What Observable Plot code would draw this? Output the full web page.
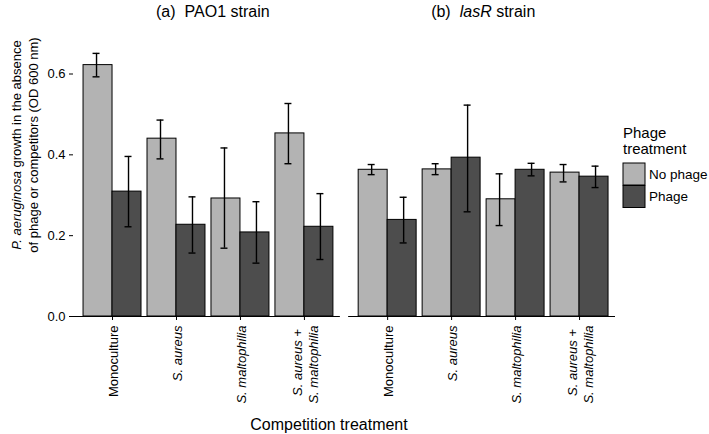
<!DOCTYPE html>
<html>
<head>
<meta charset="utf-8">
<script src="https://cdn.jsdelivr.net/npm/d3@7"></script>
<script src="https://cdn.jsdelivr.net/npm/@observablehq/plot@0.6"></script>
<style>
  body { margin: 0; background: #fff; }
  #chart svg { display: block; }
</style>
</head>
<body>
<div id="chart"></div>
<script>
// ---------- data ----------
const strains = ["PAO1", "lasR"];
const strainTitles = [["(a)", "", "PAO1 strain"], ["(b)", "lasR", " strain"]];
const competitions = ["Monoculture", "S. aureus", "S. maltophilia", "S. aureus + S. maltophilia"];
const competitionLabels = ["Monoculture", "S. aureus", "S. maltophilia", "S. aureus + \nS. maltophilia"];
const competitionItalic = [false, true, true, true];
const phageTreatments = ["No phage", "Phage"];
const barColors = ["#b3b3b3", "#4d4d4d"];
const yTicks = [0, 0.2, 0.4, 0.6];

// PAO1 strain
const pao1NoPhageMean = [0.622, 0.440, 0.292, 0.453];
const pao1NoPhageLow  = [0.593, 0.390, 0.169, 0.378];
const pao1NoPhageHigh = [0.651, 0.486, 0.417, 0.527];
const pao1PhageMean   = [0.309, 0.227, 0.208, 0.222];
const pao1PhageLow    = [0.222, 0.157, 0.132, 0.141];
const pao1PhageHigh   = [0.396, 0.296, 0.284, 0.304];
// lasR strain
const lasRNoPhageMean = [0.363, 0.364, 0.290, 0.356];
const lasRNoPhageLow  = [0.351, 0.351, 0.225, 0.333];
const lasRNoPhageHigh = [0.376, 0.378, 0.353, 0.376];
const lasRPhageMean   = [0.239, 0.393, 0.363, 0.346];
const lasRPhageLow    = [0.182, 0.259, 0.348, 0.319];
const lasRPhageHigh   = [0.295, 0.523, 0.379, 0.372];

const series = {
  "PAO1": {
    "No phage": [pao1NoPhageMean, pao1NoPhageLow, pao1NoPhageHigh],
    "Phage": [pao1PhageMean, pao1PhageLow, pao1PhageHigh]
  },
  "lasR": {
    "No phage": [lasRNoPhageMean, lasRNoPhageLow, lasRNoPhageHigh],
    "Phage": [lasRPhageMean, lasRPhageLow, lasRPhageHigh]
  }
};

// ---------- layout ----------
const W = 709, H = 434, ML = 73, MR = 94, MT = 25, MB = 118;
const fxPadInner = 0.03, xPadOuter = 0.172;
const facetW = (W - ML - MR) / (strains.length - fxPadInner) * (1 - fxPadInner);
const bw = facetW / (competitions.length * phageTreatments.length + 2 * xPadOuter);
const key = (c, p) => c + "|" + p;
const xDomain = competitions.flatMap(c => phageTreatments.map(p => key(c, p)));

const table = [];
strains.forEach(s => competitions.forEach((c, i) => phageTreatments.forEach(p => {
  const [m, lo, hi] = series[s][p];
  table.push({strain: s, competition: c, phage: p, key: key(c, p), mean: m[i], lo: lo[i], hi: hi[i]});
})));

const labelRows = strains.flatMap(s => competitions.map((c, i) => ({
  strain: s, key: key(c, phageTreatments[1]), label: competitionLabels[i], italic: competitionItalic[i]
})));

const font = "'Liberation Sans', Arial, Helvetica, sans-serif";
const labelOpts = {fx: "strain", x: "key", text: "label", dx: -bw / 2, dy: 9, frameAnchor: "bottom",
  rotate: -90, textAnchor: "end", lineAnchor: "middle", fontSize: 13, lineHeight: 1.25};

const plot = Plot.plot({
  width: W, height: H,
  marginLeft: ML, marginRight: MR, marginTop: MT, marginBottom: MB,
  style: {fontFamily: font, fontSize: "13px", background: "white", color: "black"},
  fx: {domain: strains, paddingInner: fxPadInner, paddingOuter: 0, round: false, axis: null, label: null},
  x: {domain: xDomain, paddingInner: 0, paddingOuter: xPadOuter, align: 0.64, round: false, axis: null},
  y: {domain: [0, 0.72], label: null},
  color: {domain: phageTreatments, range: barColors},
  marks: [
    Plot.barY(table.filter(d => d.phage === phageTreatments[0]),
      {fx: "strain", x: "key", y: "mean", fill: "phage", stroke: "black", strokeWidth: 1, insetLeft: 3, insetRight: 0}),
    Plot.barY(table.filter(d => d.phage === phageTreatments[1]),
      {fx: "strain", x: "key", y: "mean", fill: "phage", stroke: "black", strokeWidth: 1, insetLeft: 0, insetRight: 3}),
    Plot.ruleX(table, {fx: "strain", x: "key", y1: "lo", y2: "hi", stroke: "black", strokeWidth: 1.4}),
    Plot.tickY(table, {fx: "strain", x: "key", y: "lo", stroke: "black", strokeWidth: 1.4, inset: 12.5}),
    Plot.tickY(table, {fx: "strain", x: "key", y: "hi", stroke: "black", strokeWidth: 1.4, inset: 12.5}),
    Plot.ruleY([0], {stroke: "black", strokeWidth: 1.2}),
    Plot.ruleX(labelRows, {fx: "strain", x: "key", dx: -bw / 2, stroke: "black", strokeWidth: 1,
      insetTop: H - MT - MB, insetBottom: -4}),
    Plot.text(labelRows.filter(d => !d.italic), labelOpts),
    Plot.text(labelRows.filter(d => d.italic), {...labelOpts, fontStyle: "italic"}),
    Plot.axisY({ticks: yTicks, tickFormat: ".1f", tickSize: 4, tickPadding: 4, fontSize: 13,
      line: true, label: null, stroke: "black"})
  ]
});

document.getElementById("chart").appendChild(plot);

// ---------- annotations (titles, axis titles, legend) ----------
const svg = d3.select(plot);
const fxScale = plot.scale("fx");
const ann = svg.append("g").attr("font-family", font).attr("fill", "black")
  .attr("text-anchor", "start").attr("stroke", "none");

strains.forEach((s, i) => {
  const x0 = ML + fxScale.apply(s) + 10;
  const [pre, ital, rest] = strainTitles[i];
  const t = ann.append("text").attr("x", x0).attr("y", 16.5).attr("font-size", 16)
    .attr("text-anchor", "start");
  t.append("tspan").text(pre);
  if (ital) {
    t.append("tspan").attr("dx", 9).attr("font-style", "italic").text(ital);
    t.append("tspan").text(rest);
  } else {
    t.append("tspan").attr("dx", 9).text(rest);
  }
});

// y axis title (two lines, rotated)
const yt1 = ann.append("text").attr("transform", "translate(20.5,145) rotate(-90)")
  .attr("text-anchor", "middle").attr("font-size", 13);
yt1.append("tspan").attr("font-style", "italic").text("P. aeruginosa");
yt1.append("tspan").text(" growth in the absence");
ann.append("text").attr("transform", "translate(37.5,145) rotate(-90)")
  .attr("text-anchor", "middle").attr("font-size", 13)
  .text("of phage or competitors (OD 600 nm)");

// x axis title
ann.append("text").attr("x", 329).attr("y", 430).attr("text-anchor", "middle")
  .attr("font-size", 16).text("Competition treatment");

// legend
const colorScale = plot.scale("color");
const lg = ann.append("g").attr("transform", "translate(623,0)");
lg.append("text").attr("x", 0).attr("y", 137.5).attr("font-size", 15).attr("text-anchor", "start").text("Phage");
lg.append("text").attr("x", 0).attr("y", 154).attr("font-size", 15).attr("text-anchor", "start").text("treatment");
colorScale.domain.forEach((p, i) => {
  const y0 = 163 + i * 22.5;
  lg.append("rect").attr("x", 0).attr("y", y0).attr("width", 22).attr("height", 22)
    .attr("fill", colorScale.apply(p)).attr("stroke", "black").attr("stroke-width", 1);
  lg.append("text").attr("x", 26).attr("y", y0 + 11).attr("dy", "0.35em")
    .attr("font-size", 13.5).attr("text-anchor", "start").text(p);
});
</script>
</body>
</html>
